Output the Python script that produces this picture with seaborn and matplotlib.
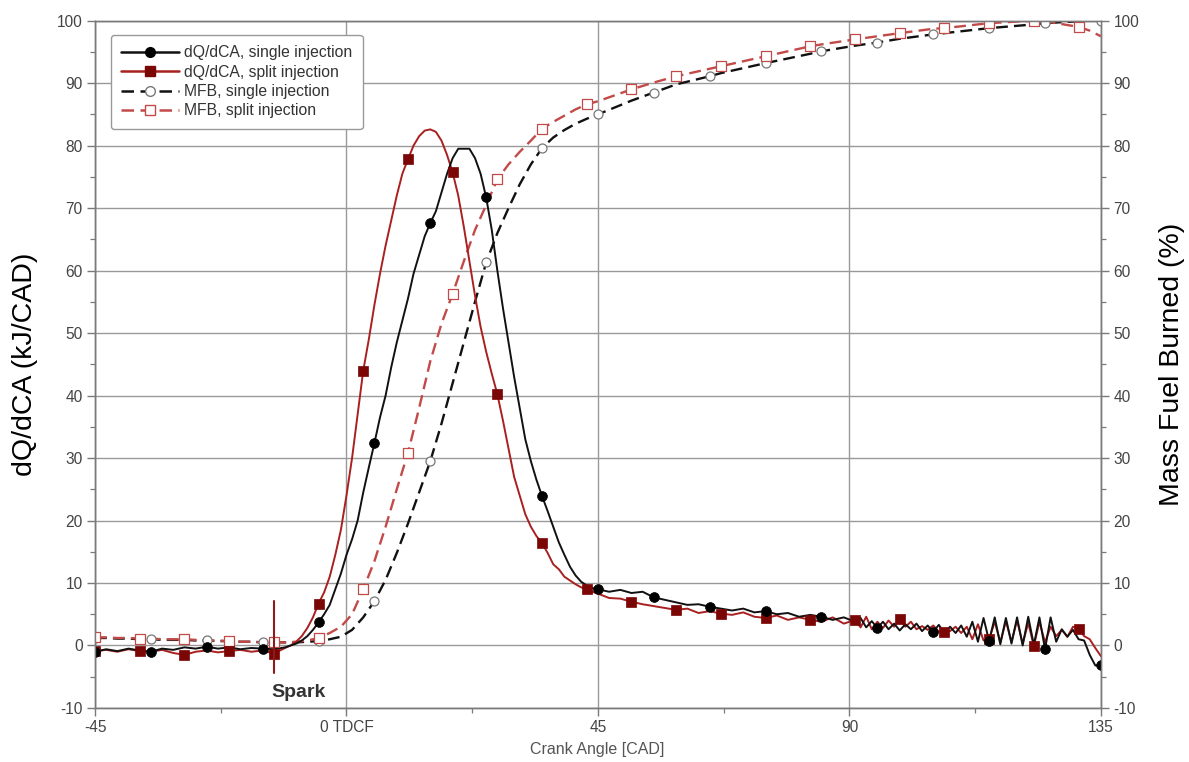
import numpy as np
import pandas as pd
import matplotlib
matplotlib.use("Agg")
import matplotlib.pyplot as plt
import seaborn as sns
from matplotlib.lines import Line2D
from matplotlib.ticker import MultipleLocator

# ---------------- data ----------------
# crank-angle sampling of the heat-release curves
DQ_X = (list(range(-45, -10, 2)) + list(range(-10, 46))
        + list(range(47, 92, 2)) + list(range(92, 136)))

DQ_SINGLE_PRE = [-1.0, -0.6, -0.9, -0.5, -0.8, -1.0, -0.5, -0.7, -0.3, -0.5,
                 -0.2, -0.5, -0.3, -0.6, -0.4, -0.5, -0.6, -0.3]
DQ_SINGLE_MAIN = [0.0, 0.3, 0.8, 1.5, 2.5, 3.7, 5.0, 6.5, 9.0, 11.5,
                  14.5, 17.0, 20.0, 24.5, 28.5, 32.4, 36.5, 40.0, 44.5, 48.5,
                  52.0, 55.5, 59.5, 62.5, 65.5, 67.6, 69.5, 72.5, 75.5, 78.0,
                  79.5, 79.5, 79.5, 78.0, 75.5, 71.7, 66.5, 60.0, 54.0, 48.5,
                  43.0, 38.0, 33.0, 29.5, 26.5, 23.9, 21.5, 19.0, 16.5, 14.5,
                  12.6, 11.2, 10.2, 9.6, 9.2, 9.0]
DQ_SINGLE_MID = [8.6, 8.9, 8.4, 8.6, 7.7, 7.3, 6.9, 6.5, 6.6, 6.2, 5.9, 5.6,
                 5.9, 5.3, 5.5, 5.0, 5.2, 4.6, 4.9, 4.6, 4.1, 4.5, 3.8]
DQ_SINGLE_TAIL = [4.4, 2.9, 3.9, 2.8, 3.8, 2.6, 3.5, 2.4, 3.4, 2.6,
                  3.5, 2.3, 3.2, 2.2, 3.3, 1.9, 3.0, 2.0, 3.2, 1.4,
                  3.8, 0.6, 4.4, 0.7, 4.5, 0.2, 4.4, 0.3, 4.5, 0.0,
                  4.6, 0.1, 4.5, -0.6, 4.5, 0.6, 2.6, 1.4, 2.5, 1.0,
                  0.8, -1.5, -3.2, -3.1]

DQ_SPLIT_PRE = [-0.9, -0.7, -1.0, -0.6, -0.9, -1.0, -0.7, -1.2, -1.5, -1.0,
                -0.8, -1.1, -0.9, -0.7, -1.0, -0.8, -1.3, -0.4]
DQ_SPLIT_MAIN = [0.0, 0.6, 1.5, 2.8, 4.5, 6.7, 8.5, 11.0, 14.5, 18.5,
                 24.0, 30.0, 37.0, 44.0, 49.0, 54.5, 59.5, 64.0, 68.0, 72.0,
                 75.5, 77.8, 80.0, 81.5, 82.4, 82.6, 82.2, 80.8, 78.5, 75.7,
                 72.0, 67.0, 61.5, 56.0, 51.0, 47.0, 43.5, 40.2, 36.0, 31.5,
                 27.0, 24.0, 21.0, 19.0, 17.5, 16.4, 14.8, 13.0, 12.2, 11.0,
                 10.4, 9.8, 9.3, 9.0, 8.6, 8.3]
DQ_SPLIT_MID = [7.6, 7.5, 7.0, 6.6, 6.3, 6.0, 5.7, 5.9, 5.2, 5.5, 5.1, 4.9,
                5.3, 4.6, 4.4, 4.8, 4.1, 4.5, 4.1, 3.8, 4.5, 3.5, 4.1]
DQ_SPLIT_TAIL = [2.9, 4.6, 2.6, 3.8, 2.8, 4.0, 3.0, 4.3, 3.0, 3.8,
                 2.6, 3.1, 2.5, 3.2, 2.2, 2.1, 2.3, 3.0, 2.0, 3.0,
                 1.0, 3.4, 0.8, 1.0, 3.8, 0.5, 3.9, 0.6, 4.0, 0.3,
                 3.6, -0.1, 3.8, 0.5, 3.0, 1.5, 2.5, 1.4, 3.0, 2.7,
                 1.5, 1.0, -0.4, -1.7]

# crank-angle sampling of the mass-fraction-burned curves
MFB_X = list(range(-45, 46, 2)) + [51, 55, 59, 65, 67, 75, 83, 85, 91, 95, 99,
                                   105, 107, 115, 123, 125, 131, 133, 135]
MFB_SINGLE_A = [1.2, 1.2, 1.1, 1.1, 1.0, 1.0, 0.9, 0.9, 0.9, 0.8,
                0.8, 0.7, 0.7, 0.6, 0.6, 0.5, 0.5, 0.5, 0.5, 0.6,
                0.7, 1.0, 1.4, 2.5, 4.5, 7.1, 10.5, 14.8, 19.5, 24.5,
                29.5, 35.5, 42.0, 48.5, 55.0, 61.3, 66.0, 70.0, 73.8, 77.0,
                79.6, 81.3, 82.5, 83.5, 84.3, 85.0]
MFB_SINGLE_B = [87.2, 88.5, 89.8, 91.1, 91.6, 93.2, 94.7, 95.1, 96.0, 96.5,
                97.1, 97.8, 98.0, 98.8, 99.4, 99.6, 99.9, 100.0, 100.0]
MFB_SPLIT_A = [1.3, 1.3, 1.2, 1.2, 1.1, 1.1, 1.0, 1.0, 1.0, 0.9,
               0.8, 0.8, 0.7, 0.6, 0.6, 0.5, 0.5, 0.5, 0.6, 0.8,
               1.2, 2.0, 3.0, 5.0, 9.0, 13.5, 19.0, 25.0, 30.8, 38.0,
               45.5, 51.5, 56.3, 61.5, 66.5, 70.5, 74.6, 77.0, 79.0, 80.8,
               82.7, 83.8, 84.8, 85.8, 86.6, 87.1]
MFB_SPLIT_B = [89.0, 90.1, 91.1, 92.3, 92.7, 94.3, 95.9, 96.2, 97.0, 97.5,
               98.0, 98.7, 98.8, 99.6, 100.0, 99.9, 99.0, 98.4, 97.5]

# marker positions (crank angle) for each injection strategy
SINGLE_MARK_X = list(range(-45, 136, 10))
SPLIT_MARK_X = list(range(-45, 132, 8))

SPARK_CAD = -13
SPARK_RANGE = [-4.4, 7.1]

X_TICKS = [-45, 0, 45, 90, 135]
X_TICK_LABELS = ["-45", "0 TDCF", "45", "90", "135"]
Y_TICKS = list(range(-10, 101, 10))

LABELS = ["dQ/dCA, single injection", "dQ/dCA, split injection",
          "MFB, single injection", "MFB, split injection"]

# ---------------- tables ----------------
dq = pd.DataFrame({
    "cad": DQ_X,
    "single": DQ_SINGLE_PRE + DQ_SINGLE_MAIN + DQ_SINGLE_MID + DQ_SINGLE_TAIL,
    "split": DQ_SPLIT_PRE + DQ_SPLIT_MAIN + DQ_SPLIT_MID + DQ_SPLIT_TAIL,
})
mfb = pd.DataFrame({
    "cad": MFB_X,
    "single": MFB_SINGLE_A + MFB_SINGLE_B,
    "split": MFB_SPLIT_A + MFB_SPLIT_B,
})

# ---------------- style ----------------
sns.set_style("white")
plt.rcParams['font.family'] = ['Liberation Sans', 'DejaVu Sans']
plt.rcParams['axes.unicode_minus'] = False

BLACK = "#111111"
RED_LINE = "#A8201F"
RED_MARK = "#7A0605"
RED_DASH = "#C24A48"
GRID = "#9A9A9A"
SPINE = "#7A7A7A"
TXT = "#444444"

fig = plt.figure(figsize=(11.89, 7.62), dpi=100)
ax = fig.add_axes([0.0799, 0.0709, 0.846, 0.902])
ax2 = ax.twinx()

DASH = (5, 2.6)

# lines
sns.lineplot(data=mfb, x="cad", y="single", ax=ax, color=BLACK, lw=1.7,
             estimator=None, legend=False, zorder=3)
ax.lines[-1].set_dashes(DASH)
sns.lineplot(data=mfb, x="cad", y="split", ax=ax, color=RED_DASH, lw=1.7,
             estimator=None, legend=False, zorder=3)
ax.lines[-1].set_dashes(DASH)
sns.lineplot(data=dq, x="cad", y="split", ax=ax, color=RED_LINE, lw=1.4,
             estimator=None, legend=False, zorder=4)
sns.lineplot(data=dq, x="cad", y="single", ax=ax, color=BLACK, lw=1.4,
             estimator=None, legend=False, zorder=5)

# markers
m_single_mfb = mfb[mfb["cad"].isin(SINGLE_MARK_X)]
m_split_mfb = mfb[mfb["cad"].isin(SPLIT_MARK_X)]
m_single_dq = dq[dq["cad"].isin(SINGLE_MARK_X)]
m_split_dq = dq[dq["cad"].isin(SPLIT_MARK_X)]

sns.scatterplot(data=m_single_mfb, x="cad", y="single", ax=ax, marker="o",
                s=42, facecolor="white", edgecolor="#777777", linewidth=0.9,
                legend=False, zorder=6)
sns.scatterplot(data=m_split_mfb, x="cad", y="split", ax=ax, marker="s",
                s=48, facecolor="white", edgecolor=RED_DASH, linewidth=0.9,
                legend=False, zorder=6)
sns.scatterplot(data=m_split_dq, x="cad", y="split", ax=ax, marker="s",
                s=58, color=RED_MARK, edgecolor=RED_MARK, linewidth=0.5,
                legend=False, zorder=7)
sns.scatterplot(data=m_single_dq, x="cad", y="single", ax=ax, marker="o",
                s=50, color="black", edgecolor="black", linewidth=0.5,
                legend=False, zorder=8)

# spark marker
ax.plot([SPARK_CAD, SPARK_CAD], SPARK_RANGE, color="#8E1B1B", lw=1.5, zorder=9)
ax.text(-8.5, -7.5, "Spark", fontsize=14, fontweight="bold", color="#333333",
        ha="center", va="center")

# axes
for a in (ax, ax2):
    a.set_xlim(-45, 135)
    a.set_ylim(-10, 100)
    a.set_yticks(Y_TICKS)
    a.yaxis.set_minor_locator(MultipleLocator(5))
    for s in a.spines.values():
        s.set_color(SPINE)
        s.set_linewidth(1.0)
    a.tick_params(which="major", direction="out", length=6, width=1.0,
                  color=SPINE, labelsize=11.2, labelcolor=TXT, pad=3)
    a.tick_params(which="minor", direction="out", length=3.5, width=0.9,
                  color=SPINE)

ax.set_xticks(X_TICKS)
ax.set_xticklabels(X_TICK_LABELS)
ax.xaxis.set_minor_locator(MultipleLocator(22.5))
ax.tick_params(axis="x", which="both", bottom=True)
ax.tick_params(axis="y", which="both", left=True)
ax2.tick_params(axis="y", which="both", right=True)
ax.grid(True, which="major", color=GRID, lw=1.0, zorder=0)
ax.set_axisbelow(True)

ax.set_xlabel("Crank Angle [CAD]", fontsize=11.5, color="#555555")
ax.xaxis.set_label_coords(0.499, -0.05)
ax.set_ylabel("dQ/dCA (kJ/CAD)", fontsize=20.5, color="black")
ax.yaxis.set_label_coords(-0.057, 0.5)
ax2.set_ylabel("Mass Fuel Burned (%)", fontsize=20.5, color="black",
               rotation=90)
ax2.yaxis.set_label_coords(1.058, 0.5)

# legend
handles = [
    Line2D([], [], color=BLACK, lw=1.8, marker="o", ms=7, mfc="black", mec="black"),
    Line2D([], [], color=RED_LINE, lw=1.8, marker="s", ms=7.5, mfc=RED_MARK, mec=RED_MARK),
    Line2D([], [], color=BLACK, lw=1.8, dashes=DASH, marker="o", ms=7, mfc="white", mec="#777777"),
    Line2D([], [], color=RED_DASH, lw=1.8, dashes=DASH, marker="s", ms=7, mfc="white", mec=RED_DASH),
]
leg = ax.legend(handles, LABELS, loc="upper left", bbox_to_anchor=(0.016, 0.979),
                borderaxespad=0.0,
                fontsize=11.3, handlelength=3.7, labelspacing=0.28,
                handletextpad=0.3, borderpad=0.65, frameon=True, fancybox=True,
                framealpha=1.0, edgecolor="#999999")
for t in leg.get_texts():
    t.set_color("#333333")
leg.set_zorder(20)

fig.savefig("out.png", dpi=100)
